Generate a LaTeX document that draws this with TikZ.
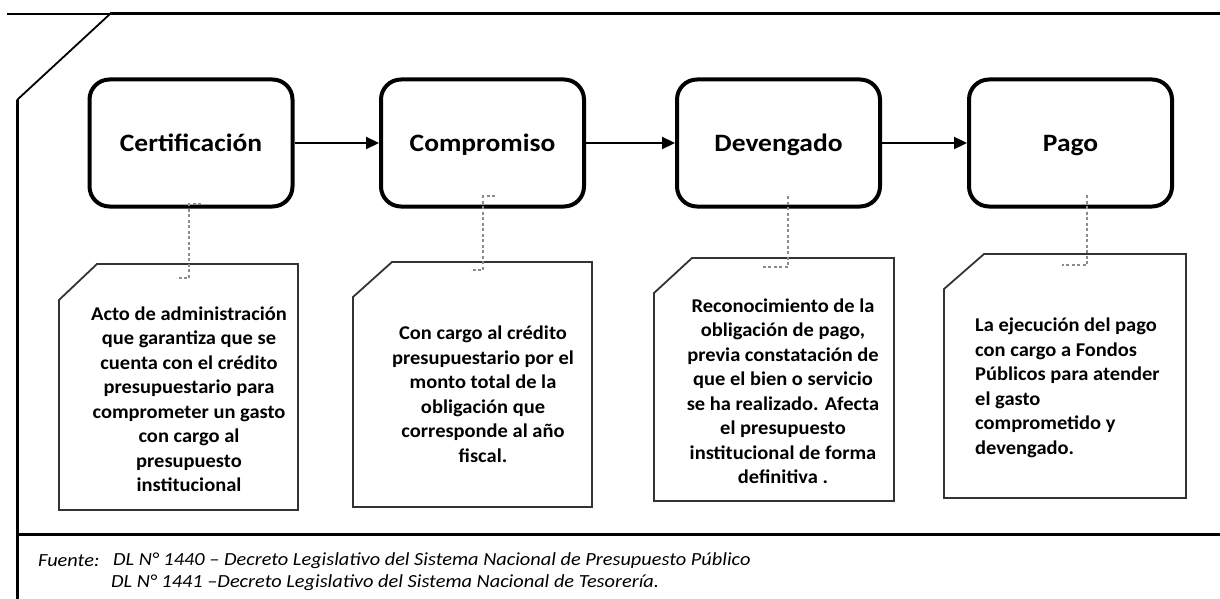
\documentclass[tikz,border=0pt]{standalone}
\usepackage{fontspec}
\setmainfont{Carlito}
\newfontfamily\stretched{Carlito}[FakeStretch=1.1]
\newfontfamily\notefont{Carlito}[FakeStretch=1.05]
\usetikzlibrary{arrows.meta}
\tikzset{
  procbox/.style={draw=black, line width=4pt, rounded corners=20pt, minimum width=203pt, minimum height=127pt, inner sep=0pt, text height=16pt, text depth=0pt, font=\stretched\bfseries\fontsize{25}{30}\selectfont},
  flowarrow/.style={draw=black, line width=2.2pt, -{Triangle[length=13pt,width=12pt]}},
  notebox/.style={draw=black!80, line width=1.8pt, line join=miter},
  notetext/.style={inner sep=0pt, font=\notefont\bfseries\fontsize{19.5}{24.5}\selectfont},
  linkline/.style={draw=black!45, line width=1.2pt, dash pattern=on 3pt off 2.5pt},
  footnote/.style={inner sep=0pt, anchor=west, font=\stretched\itshape\fontsize{18.5}{22}\selectfont},
}
\begin{document}
\begin{tikzpicture}[x=1pt,y=-1pt]
\useasboundingbox (0,0) rectangle (1220,599);
% frame
\draw[line width=1.6pt] (7,14) -- (110,14);
\draw[line width=3pt] (110,14) -- (1220,14);
\draw[line width=1.8pt] (110,14) -- (17,100);
\draw[line width=3pt] (17,100) -- (17,599);
\draw[line width=3pt] (17,534) -- (1220,534);
% process boxes
\node[procbox] (b1) at (191,143) {Certificación};
\node[procbox] (b2) at (482.5,143) {Compromiso};
\node[procbox] (b3) at (778.5,143) {Devengado};
\node[procbox] (b4) at (1070.5,143) {Pago};
\draw[flowarrow] (b1.east) -- (b2.west);
\draw[flowarrow] (b2.east) -- (b3.west);
\draw[flowarrow] (b3.east) -- (b4.west);
% note shapes
\draw[notebox] (97,264) -- (298,264) -- (298,510) -- (59,510) -- (59,300) -- cycle;
\draw[notebox] (392,262) -- (592,262) -- (592,507) -- (353,507) -- (353,297) -- cycle;
\draw[notebox] (692,258) -- (894,258) -- (894,501) -- (654,501) -- (654,293) -- cycle;
\draw[notebox] (984,254) -- (1186,254) -- (1186,498) -- (944,498) -- (944,289) -- cycle;
% connector end points
\coordinate (c1a) at (201,204); \coordinate (c1b) at (189,204); \coordinate (c1c) at (189,278); \coordinate (c1d) at (176,278);
\coordinate (c2a) at (495,196); \coordinate (c2b) at (483,196); \coordinate (c2c) at (483,270); \coordinate (c2d) at (470,270);
\coordinate (c3b) at (788,196); \coordinate (c3c) at (788,267); \coordinate (c3d) at (762,267);
\coordinate (c4b) at (1087,195); \coordinate (c4c) at (1087,265); \coordinate (c4d) at (1062,265);
\draw[linkline] (c1a) -- (c1b) -- (c1c) -- (c1d);
\draw[linkline] (c2a) -- (c2b) -- (c2c) -- (c2d);
\draw[linkline] (c3b) -- (c3c) -- (c3d);
\draw[linkline] (c4b) -- (c4c) -- (c4d);
% note texts
\node[notetext, align=center] (t1) at (189,399) {Acto de administración\\que garantiza que se\\cuenta con el crédito\\presupuestario para\\comprometer un gasto\\con cargo al\\presupuesto\\institucional};
\node[notetext, align=center] (t2) at (483,394) {Con cargo al crédito\\presupuestario por el\\monto total de la\\obligación que\\corresponde al año\\fiscal.};
\node[notetext, align=center] (t3) at (783,391) {Reconocimiento de la\\obligación de pago,\\previa constatación de\\que el bien o servicio\\se ha realizado. Afecta\\el presupuesto\\institucional de forma\\definitiva .};
\node[notetext, align=left, anchor=west] (t4) at (975,388) {La ejecución del pago\\con cargo a Fondos\\Públicos para atender\\el gasto\\comprometido y\\devengado.};
% footer
\node[footnote] (f1) at (38,561) {Fuente:};
\node[footnote] (f2) at (113,561) {DL N° 1440 – Decreto Legislativo del Sistema Nacional de Presupuesto Público};
\node[footnote] (f3) at (111,583) {DL N° 1441 –Decreto Legislativo del Sistema Nacional de Tesorería.};
\end{tikzpicture}
\end{document}
